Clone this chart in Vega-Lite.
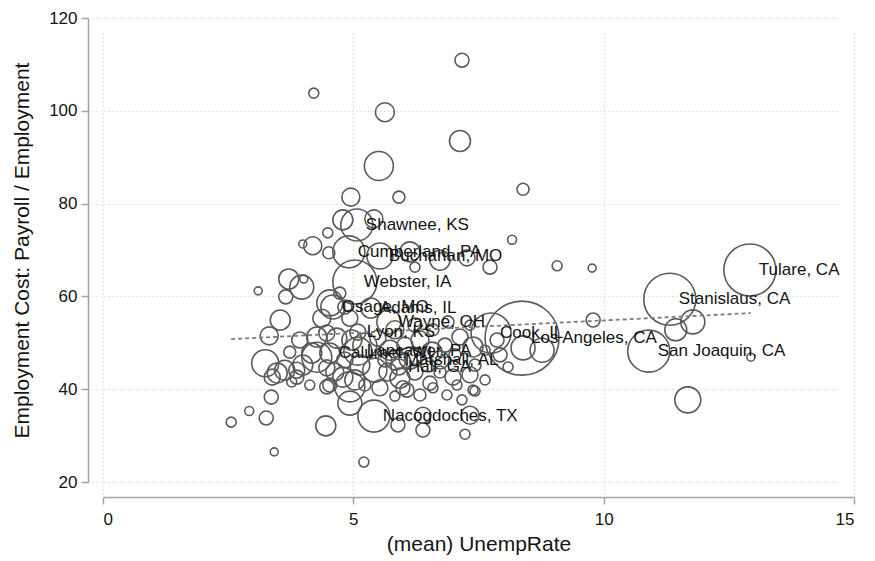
{
  "$schema": "https://vega.github.io/schema/vega-lite/v6.json",
  "width": 751,
  "height": 464,
  "autosize": "none",
  "padding": {"left": 103, "top": 18, "right": 21, "bottom": 79},
  "background": "white",
  "config": {
    "view": {"stroke": null},
    "font": "Liberation Sans",
    "axis": {
      "domainColor": "#a3a3a3",
      "domainWidth": 1.5,
      "tickColor": "#a3a3a3",
      "tickWidth": 1.5,
      "tickSize": 7,
      "labelFontSize": 17,
      "labelColor": "#141414",
      "titleFontSize": 21,
      "titleFontWeight": "normal",
      "titleColor": "#141414",
      "grid": true,
      "gridColor": "#c6c6c6",
      "gridDash": [1, 3],
      "gridWidth": 1.2,
      "offset": 15
    }
  },
  "datasets": {
    "counties": [
      {"label": "Tulare, CA", "unemp": 12.92, "cost": 65.7, "weight": 676},
      {"label": "Stanislaus, CA", "unemp": 11.32, "cost": 59.4, "weight": 676},
      {"label": "San Joaquin, CA", "unemp": 10.9, "cost": 48.2, "weight": 441},
      {"label": "Los Angeles, CA", "unemp": 8.37, "cost": 51.0, "weight": 1369},
      {"label": "Cook, IL", "unemp": 7.75, "cost": 52.1, "weight": 400},
      {"label": "Shawnee, KS", "unemp": 5.07, "cost": 75.4, "weight": 256},
      {"label": "Cumberland, PA", "unemp": 4.91, "cost": 69.6, "weight": 256},
      {"label": "Buchanan, MO", "unemp": 5.53, "cost": 68.7, "weight": 169},
      {"label": "Webster, IA", "unemp": 5.03, "cost": 63.1, "weight": 484},
      {"label": "Osage, MO", "unemp": 4.59, "cost": 57.7, "weight": 144},
      {"label": "Adams, IL", "unemp": 5.35, "cost": 57.5, "weight": 100},
      {"label": "Wayne, OH", "unemp": 5.71, "cost": 54.5, "weight": 144},
      {"label": "Lyon, KS", "unemp": 5.09, "cost": 52.3, "weight": 64},
      {"label": "Lancaster, PA", "unemp": 5.09, "cost": 48.2, "weight": 196},
      {"label": "Calumet, WI", "unemp": 4.53, "cost": 47.8, "weight": 100},
      {"label": "Marshall, AL", "unemp": 5.85, "cost": 46.3, "weight": 100},
      {"label": "Hall, GA", "unemp": 5.91, "cost": 44.8, "weight": 64},
      {"label": "Nacogdoches, TX", "unemp": 5.41, "cost": 34.2, "weight": 256},
      {"unemp": 7.17, "cost": 110.9, "weight": 49},
      {"unemp": 4.21, "cost": 103.8, "weight": 25},
      {"unemp": 5.63, "cost": 99.7, "weight": 90},
      {"unemp": 7.13, "cost": 93.5, "weight": 110},
      {"unemp": 5.51, "cost": 88.1, "weight": 210},
      {"unemp": 8.39, "cost": 83.1, "weight": 36},
      {"unemp": 4.95, "cost": 81.4, "weight": 81},
      {"unemp": 5.91, "cost": 81.4, "weight": 36},
      {"unemp": 5.41, "cost": 76.7, "weight": 81},
      {"unemp": 4.79, "cost": 76.5, "weight": 100},
      {"unemp": 8.17, "cost": 72.2, "weight": 20},
      {"unemp": 4.49, "cost": 73.7, "weight": 25},
      {"unemp": 4.19, "cost": 70.9, "weight": 81},
      {"unemp": 3.99, "cost": 71.3, "weight": 16},
      {"unemp": 4.51, "cost": 69.4, "weight": 36},
      {"unemp": 6.13, "cost": 69.6, "weight": 100},
      {"unemp": 6.73, "cost": 67.8, "weight": 100},
      {"unemp": 7.27, "cost": 68.3, "weight": 64},
      {"unemp": 7.73, "cost": 66.3, "weight": 49},
      {"unemp": 6.23, "cost": 66.3, "weight": 25},
      {"unemp": 9.07, "cost": 66.6, "weight": 25},
      {"unemp": 9.77, "cost": 66.1, "weight": 16},
      {"unemp": 3.71, "cost": 63.75, "weight": 100},
      {"unemp": 3.97, "cost": 62.0, "weight": 144},
      {"unemp": 4.01, "cost": 63.75, "weight": 16},
      {"unemp": 3.65, "cost": 59.9, "weight": 49},
      {"unemp": 3.1, "cost": 61.2, "weight": 16},
      {"unemp": 4.53, "cost": 58.6, "weight": 169},
      {"unemp": 4.73, "cost": 60.7, "weight": 36},
      {"unemp": 4.83, "cost": 57.7, "weight": 49},
      {"unemp": 3.54, "cost": 54.9, "weight": 100},
      {"unemp": 3.32, "cost": 51.5, "weight": 81},
      {"unemp": 4.37, "cost": 55.3, "weight": 81},
      {"unemp": 4.93, "cost": 55.3, "weight": 64},
      {"unemp": 9.79, "cost": 54.9, "weight": 49},
      {"unemp": 11.44, "cost": 52.8, "weight": 121},
      {"unemp": 11.78, "cost": 54.5, "weight": 144},
      {"unemp": 12.94, "cost": 46.9, "weight": 16},
      {"unemp": 11.68, "cost": 37.7, "weight": 169},
      {"unemp": 7.87, "cost": 50.6, "weight": 49},
      {"unemp": 8.39, "cost": 48.9, "weight": 144},
      {"unemp": 8.77, "cost": 48.4, "weight": 144},
      {"unemp": 7.93, "cost": 47.4, "weight": 49},
      {"unemp": 8.09, "cost": 44.8, "weight": 25},
      {"unemp": 7.13, "cost": 51.25, "weight": 64},
      {"unemp": 7.39, "cost": 49.1, "weight": 100},
      {"unemp": 7.33, "cost": 43.1, "weight": 64},
      {"unemp": 6.99, "cost": 42.6, "weight": 64},
      {"unemp": 6.53, "cost": 41.3, "weight": 49},
      {"unemp": 6.59, "cost": 40.3, "weight": 25},
      {"unemp": 6.87, "cost": 38.75, "weight": 25},
      {"unemp": 7.07, "cost": 40.9, "weight": 25},
      {"unemp": 7.39, "cost": 39.8, "weight": 25},
      {"unemp": 5.83, "cost": 38.5, "weight": 25},
      {"unemp": 6.07, "cost": 39.8, "weight": 49},
      {"unemp": 4.93, "cost": 37.0, "weight": 144},
      {"unemp": 5.89, "cost": 32.3, "weight": 49},
      {"unemp": 6.39, "cost": 31.2, "weight": 49},
      {"unemp": 6.39, "cost": 34.4, "weight": 64},
      {"unemp": 7.33, "cost": 34.4, "weight": 81},
      {"unemp": 7.23, "cost": 30.3, "weight": 25},
      {"unemp": 5.03, "cost": 42.0, "weight": 100},
      {"unemp": 2.56, "cost": 32.9, "weight": 25},
      {"unemp": 2.92, "cost": 35.3, "weight": 20},
      {"unemp": 3.26, "cost": 33.8, "weight": 49},
      {"unemp": 3.36, "cost": 38.3, "weight": 49},
      {"unemp": 3.42, "cost": 26.5, "weight": 16},
      {"unemp": 4.45, "cost": 32.1, "weight": 100},
      {"unemp": 5.21, "cost": 24.3, "weight": 25},
      {"unemp": 7.43, "cost": 39.6, "weight": 25},
      {"unemp": 5.99, "cost": 40.3, "weight": 49},
      {"unemp": 4.13, "cost": 40.9, "weight": 25},
      {"unemp": 4.47, "cost": 40.5, "weight": 49},
      {"unemp": 4.93, "cost": 40.5, "weight": 225},
      {"unemp": 3.77, "cost": 41.55, "weight": 25},
      {"unemp": 3.24, "cost": 45.6, "weight": 182},
      {"unemp": 3.38, "cost": 42.6, "weight": 64},
      {"unemp": 3.48, "cost": 43.5, "weight": 100},
      {"unemp": 3.63, "cost": 44.1, "weight": 100},
      {"unemp": 3.87, "cost": 44.1, "weight": 64},
      {"unemp": 3.99, "cost": 45.2, "weight": 100},
      {"unemp": 4.17, "cost": 47.8, "weight": 100},
      {"unemp": 4.27, "cost": 51.25, "weight": 100},
      {"unemp": 4.47, "cost": 52.1, "weight": 64},
      {"unemp": 4.67, "cost": 51.0, "weight": 100},
      {"unemp": 4.27, "cost": 46.9, "weight": 225},
      {"unemp": 4.47, "cost": 44.6, "weight": 64},
      {"unemp": 4.53, "cost": 40.9, "weight": 49},
      {"unemp": 4.79, "cost": 42.6, "weight": 100},
      {"unemp": 3.87, "cost": 42.6, "weight": 49},
      {"unemp": 4.97, "cost": 50.6, "weight": 100},
      {"unemp": 5.23, "cost": 49.5, "weight": 144},
      {"unemp": 5.49, "cost": 51.0, "weight": 64},
      {"unemp": 5.73, "cost": 48.4, "weight": 100},
      {"unemp": 6.03, "cost": 49.5, "weight": 64},
      {"unemp": 6.33, "cost": 50.6, "weight": 81},
      {"unemp": 6.57, "cost": 48.0, "weight": 100},
      {"unemp": 6.83, "cost": 49.5, "weight": 49},
      {"unemp": 5.13, "cost": 45.2, "weight": 100},
      {"unemp": 5.43, "cost": 44.1, "weight": 144},
      {"unemp": 5.69, "cost": 43.7, "weight": 81},
      {"unemp": 5.93, "cost": 42.4, "weight": 100},
      {"unemp": 6.23, "cost": 43.7, "weight": 64},
      {"unemp": 6.49, "cost": 45.2, "weight": 49},
      {"unemp": 6.73, "cost": 46.3, "weight": 81},
      {"unemp": 4.83, "cost": 46.3, "weight": 64},
      {"unemp": 4.63, "cost": 43.7, "weight": 81},
      {"unemp": 5.63, "cost": 46.3, "weight": 49},
      {"unemp": 6.13, "cost": 46.7, "weight": 121},
      {"unemp": 7.03, "cost": 47.4, "weight": 36},
      {"unemp": 7.43, "cost": 45.2, "weight": 36},
      {"unemp": 7.63, "cost": 42.0, "weight": 25},
      {"unemp": 6.73, "cost": 43.7, "weight": 36},
      {"unemp": 6.33, "cost": 38.75, "weight": 36},
      {"unemp": 7.17, "cost": 37.7, "weight": 25},
      {"unemp": 5.53, "cost": 40.3, "weight": 64},
      {"unemp": 5.23, "cost": 40.9, "weight": 36},
      {"unemp": 3.93, "cost": 50.6, "weight": 64},
      {"unemp": 3.73, "cost": 48.0, "weight": 36},
      {"unemp": 5.83, "cost": 52.8, "weight": 81},
      {"unemp": 6.23, "cost": 53.8, "weight": 49},
      {"unemp": 6.59, "cost": 52.8, "weight": 36},
      {"unemp": 6.89, "cost": 54.5, "weight": 36},
      {"unemp": 7.33, "cost": 53.8, "weight": 25},
      {"unemp": 7.63, "cost": 48.4, "weight": 25}
    ],
    "fit": [
      {"unemp": 2.56, "cost": 50.8},
      {"unemp": 12.94, "cost": 56.4}
    ]
  },
  "encoding": {
    "x": {
      "field": "unemp",
      "type": "quantitative",
      "scale": {"domain": [0, 15], "nice": false, "zero": false},
      "axis": {
        "title": "(mean) UnempRate",
        "values": [0, 5, 10, 15],
        "labelPadding": 7,
        "titlePadding": 6
      }
    },
    "y": {
      "field": "cost",
      "type": "quantitative",
      "scale": {"domain": [20, 120], "nice": false, "zero": false},
      "axis": {
        "title": "Employment Cost: Payroll / Employment",
        "values": [20, 40, 60, 80, 100, 120],
        "labelPadding": 4,
        "titlePadding": 16
      }
    }
  },
  "layer": [
    {
      "data": {"name": "counties"},
      "mark": {
        "type": "point",
        "shape": "circle",
        "filled": false,
        "color": "#5a5a5a",
        "strokeWidth": 1.6,
        "opacity": 1
      },
      "encoding": {
        "size": {
          "field": "weight",
          "type": "quantitative",
          "scale": {"domain": [0, 1400], "range": [0, 5600]},
          "legend": null
        }
      }
    },
    {
      "data": {"name": "fit"},
      "mark": {
        "type": "line",
        "color": "#7c7c7c",
        "strokeWidth": 1.8,
        "strokeDash": [4, 3]
      },
      "encoding": {}
    },
    {
      "data": {"name": "counties"},
      "transform": [{"filter": "isValid(datum.label)"}],
      "mark": {
        "type": "text",
        "align": "left",
        "baseline": "middle",
        "dx": 9,
        "fontSize": 17,
        "color": "#141414"
      },
      "encoding": {
        "text": {"field": "label", "type": "nominal"}
      }
    }
  ]
}
